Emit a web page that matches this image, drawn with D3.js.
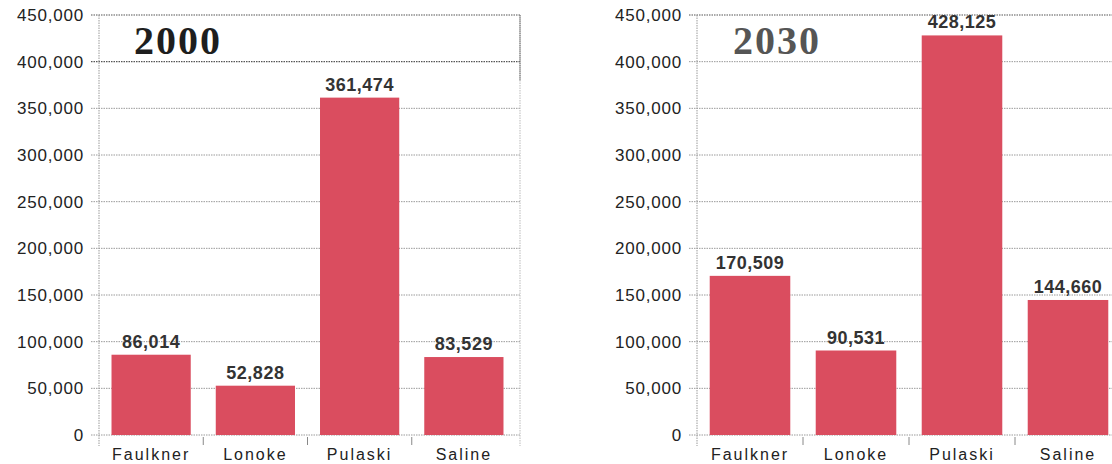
<!DOCTYPE html>
<html><head><meta charset="utf-8">
<script src="https://cdn.jsdelivr.net/npm/d3@7"></script>
<style>
html,body{margin:0;padding:0;background:#fff;}
svg{display:block;}
</style></head>
<body>
<svg id="c" width="1112" height="464"></svg>
<script>
const categories = ["Faulkner", "Lonoke", "Pulaski", "Saline"];
const values2000 = [86014, 52828, 361474, 83529];
const values2030 = [170509, 90531, 428125, 144660];
const yTicks = [0, 50000, 100000, 150000, 200000, 250000, 300000, 350000, 400000, 450000];
const titles = ["2000", "2030"];

const svg = d3.select("#c");
const fmt = d3.format(",");
const barColor = "#da4d5f";

function drawChart(cfg) {
  const g = svg.append("g");
  const y = d3.scaleLinear().domain([0, 450000]).range([435, 15]);
  const x = d3.scaleBand().domain(cfg.categories).range([cfg.x0, cfg.x1])
    .paddingInner(0.24).paddingOuter(0.12);

  // gridlines
  g.append("g").selectAll("line").data(yTicks).join("line")
    .attr("x1", cfg.x0 - 8).attr("x2", cfg.gridEnd)
    .attr("y1", d => y(d)).attr("y2", d => y(d))
    .attr("stroke", d => (cfg.darkTop.includes(d)) ? "#555" : "#9a9a9a")
    .attr("stroke-width", d => (cfg.darkTop.includes(d)) ? 1.2 : 1)
    .attr("stroke-dasharray", "1.5,1");

  // y axis line
  g.append("line").attr("x1", cfg.x0).attr("x2", cfg.x0)
    .attr("y1", y(450000)).attr("y2", 446)
    .attr("stroke", "#999").attr("stroke-dasharray", "1.5,1");

  if (cfg.rightBorder) {
    g.append("line").attr("x1", cfg.gridEnd).attr("x2", cfg.gridEnd)
      .attr("y1", y(450000)).attr("y2", 446)
      .attr("stroke", "#bbb").attr("stroke-dasharray", "1.5,1");
    g.append("line").attr("x1", cfg.gridEnd).attr("x2", cfg.gridEnd)
      .attr("y1", y(450000)).attr("y2", y(380000))
      .attr("stroke", "#666").attr("stroke-dasharray", "1.5,0.5");
  }

  // category separator ticks
  const seps = cfg.categories.slice(1).map(c => x(c) - x.step() * x.paddingInner() / 2);
  g.append("g").selectAll("line").data(seps).join("line")
    .attr("x1", d => d).attr("x2", d => d).attr("y1", 437).attr("y2", 445)
    .attr("stroke", "#888");

  // y tick labels
  g.append("g").selectAll("text").data(yTicks).join("text")
    .attr("x", cfg.x0 - 15).attr("y", d => y(d)).attr("dy", "0.36em")
    .attr("text-anchor", "end")
    .attr("font-family", "Liberation Sans, Arial, sans-serif")
    .attr("font-size", 17).attr("letter-spacing", 0.8).attr("fill", "#222")
    .text(d => fmt(d));

  // bars
  g.append("g").selectAll("rect").data(cfg.values).join("rect")
    .attr("x", (d, i) => x(cfg.categories[i])).attr("width", x.bandwidth())
    .attr("y", d => y(d)).attr("height", d => y(0) - y(d))
    .attr("fill", barColor);

  // value labels
  g.append("g").selectAll("text").data(cfg.values).join("text")
    .attr("x", (d, i) => x(cfg.categories[i]) + x.bandwidth() / 2)
    .attr("y", d => y(d) - 7)
    .attr("text-anchor", "middle")
    .attr("font-family", "Liberation Sans, Arial, sans-serif")
    .attr("font-weight", "bold").attr("font-size", 18).attr("letter-spacing", 0.5)
    .attr("fill", "#333")
    .text(d => fmt(d));

  // category labels
  g.append("g").selectAll("text").data(cfg.categories).join("text")
    .attr("x", d => x(d) + x.bandwidth() / 2).attr("y", 460)
    .attr("text-anchor", "middle")
    .attr("font-family", "Liberation Sans, Arial, sans-serif")
    .attr("font-size", 16).attr("letter-spacing", 2).attr("fill", "#222")
    .text(d => d);

  // title
  g.append("text").attr("x", cfg.titleX).attr("y", 54)
    .attr("font-family", "Liberation Serif, 'Times New Roman', serif")
    .attr("font-weight", "bold").attr("font-size", 40).attr("letter-spacing", 2)
    .attr("fill", cfg.titleColor)
    .text(cfg.title);
}

drawChart({categories, values: values2000, x0: 99, x1: 516, gridEnd: 520,
  darkTop: [450000, 400000], rightBorder: true, title: titles[0], titleX: 134, titleColor: "#1e1e1e"});
drawChart({categories, values: values2030, x0: 697, x1: 1121, gridEnd: 1112,
  darkTop: [450000], rightBorder: false, title: titles[1], titleX: 733, titleColor: "#555"});
</script>
</body></html>
